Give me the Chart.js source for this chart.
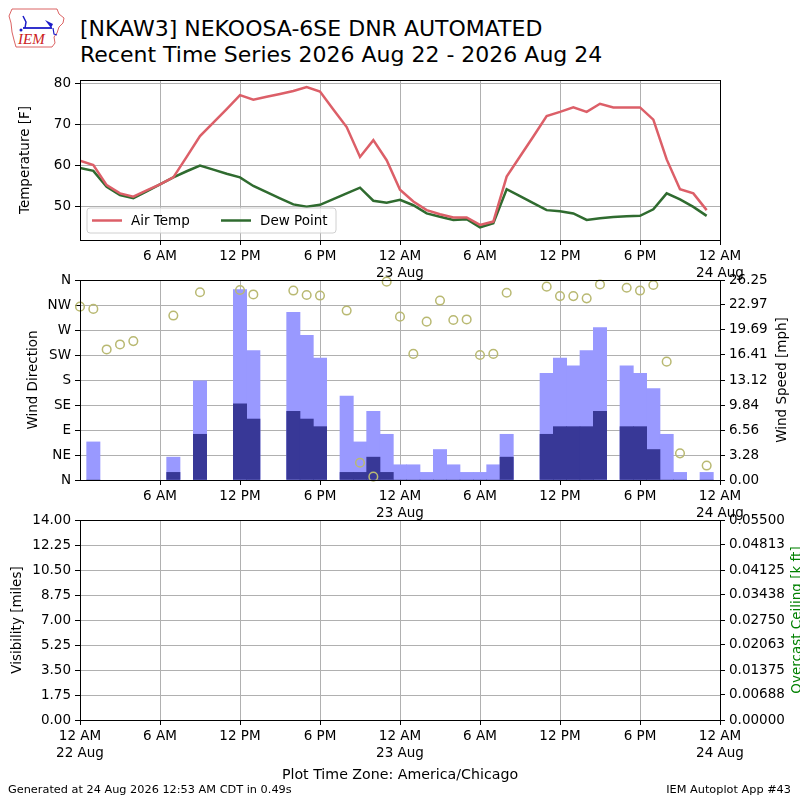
<!DOCTYPE html>
<html>
<head>
<meta charset="utf-8">
<title>NKAW3 Recent Time Series</title>
<script src="https://cdn.jsdelivr.net/npm/chart.js@4.4.1/dist/chart.umd.min.js"></script>
<style>
  html, body { margin: 0; padding: 0; background: #fff; overflow: hidden; }
  #page { position: relative; width: 800px; height: 800px; font-family: 'DejaVu Sans', sans-serif; }
  canvas { position: absolute; left: 0; top: 0; }
  .txt { position: absolute; white-space: nowrap; color: #000; }
</style>
</head>
<body>
<div id="page">
  <svg style="position:absolute;left:7px;top:6px" width="60" height="44" viewBox="0 0 60 44">
    <path d="M5 3 L50 3 L52 8 L57 12 L56 17 L52 21 L50 27 L47 31 L48 37 L45 41 L9 41 L7 34 L5 26 L4 17 L2 10 Z"
          fill="none" stroke="#d23c3c" stroke-width="0.8"/>
    <path d="M16 22 L45 22" stroke="#1c1cc8" stroke-width="1.8"/>
    <path d="M16 10 L19 16 L18 22" stroke="#1c1cc8" stroke-width="1.5" fill="none"/>
    <path d="M38 14 L46 18 L44 22 Z" fill="#1c1cc8"/>
    <path d="M46 22 L47 28 L50 29" stroke="#1c1cc8" stroke-width="1.2" fill="none"/>
    <circle cx="14" cy="24" r="1.5" fill="#1c1cc8"/>
    <text x="11" y="38" font-family="Liberation Serif" font-style="italic" font-size="15" fill="#cc2020">IEM</text>
  </svg>
  <div class="txt" style="left:80px; top:16px; font-size:22px;">[NKAW3] NEKOOSA-6SE DNR AUTOMATED</div>
  <div class="txt" style="left:80px; top:42px; font-size:22px;">Recent Time Series 2026 Aug 22 - 2026 Aug 24</div>
  <canvas id="tempChart" width="800" height="800"></canvas>
  <canvas id="windChart" width="800" height="800"></canvas>
  <canvas id="visChart" width="800" height="800"></canvas>
  <div class="txt" style="left:0; width:800px; text-align:center; top:766px; font-size:14.2px;">Plot Time Zone: America/Chicago</div>
  <div class="txt" style="left:8px; top:783px; font-size:11.3px;">Generated at 24 Aug 2026 12:53 AM CDT in 0.49s</div>
  <div class="txt" style="right:9px; top:783px; font-size:11.3px;">IEM Autoplot App #43</div>
</div>
<script>
// hours since 12 AM 22 Aug (local time)
const tempHours = [0, 1, 2, 3, 4, 5, 6, 7, 8, 9, 10, 11, 12, 13, 14, 15, 16, 17, 18, 19, 20, 21, 22, 23,
                   24, 25, 26, 27, 28, 29, 30, 31, 32, 33, 34, 35, 36, 37, 38, 39, 40, 41, 42, 43, 44, 45, 46, 47];
const airTemp = [61.1, 60.0, 55.1, 53.1, 52.3, 53.8, 55.3, 57.0, 62.0, 67.1, 70.4, 73.7, 77.1, 76.0, 76.7, 77.4,
                 78.1, 79.1, 78.0, 73.6, 69.3, 62.0, 66.1, 61.2, 54.0, 51.1, 49.0, 48.0, 47.2, 47.2, 45.4, 46.2,
                 57.2, 62.1, 67.0, 72.0, 73.0, 74.1, 73.0, 75.0, 74.1, 74.1, 74.1, 71.1, 61.4, 54.1, 53.1, 49.0];
const dewPoint = [59.3, 58.6, 54.7, 52.7, 51.9, 53.6, 55.3, 57.0, 58.5, 59.9, 58.9, 57.9, 57.0, 54.9, 53.4, 51.9,
                  50.4, 49.8, 50.3, 51.7, 53.1, 54.5, 51.3, 50.8, 51.5, 50.2, 48.2, 47.4, 46.6, 46.8, 44.8, 45.8,
                  54.1, 52.4, 50.7, 49.0, 48.7, 48.2, 46.6, 47.0, 47.3, 47.5, 47.6, 49.2, 53.1, 51.6, 49.8, 47.6];

// wind bars: light = gust, dark = sustained speed [mph]
const windHours = [1, 7, 9, 12, 13, 16, 17, 18, 20, 21, 22, 23, 24, 25, 26, 27, 28, 29, 30, 31, 32,
                   35, 36, 37, 38, 39, 41, 42, 43, 44, 45, 47];
const windGust = [5, 3, 13, 25, 17, 22, 19, 16, 11, 5, 9, 6, 2, 2, 1, 4, 2, 1, 1, 2, 6,
                  14, 16, 15, 17, 20, 15, 14, 12, 6, 1, 1];
const windSpeed = [0, 1, 6, 10, 8, 9, 8, 7, 1, 1, 3, 1, 0, 0, 0, 0, 0, 0, 0, 0, 3,
                   6, 7, 7, 7, 9, 7, 7, 4, 0, 0, 0];

// wind direction [deg]
const drctHours = [0, 1, 2, 3, 4, 7, 9, 12, 13, 16, 17, 18, 20, 21, 22, 23, 24, 25, 26, 27, 28, 29, 30, 31, 32,
                   35, 36, 37, 38, 39, 41, 42, 43, 44, 45, 47];
const windDir = [312, 308, 235, 244, 250, 296, 338, 342, 334, 341, 333, 332, 305, 31, 6, 357, 294, 227, 285, 323,
                 288, 289, 225, 227, 337, 348, 331, 331, 327, 352, 346, 341, 351, 213, 48, 26];

// bottom panel has no observations
const visibility = [];
const ceiling = [];

// tick labels
const hourNames = { 0: '12 AM', 6: '6 AM', 12: '12 PM', 18: '6 PM' };
const dayNames = ['22 Aug', '23 Aug', '24 Aug'];
const timeTicksTop = [6, 12, 18, 24, 30, 36, 42, 48];
const timeTicksAll = [0, 6, 12, 18, 24, 30, 36, 42, 48];
const tempTicks = [50, 60, 70, 80];
const dirTickLabels = ['N', 'NE', 'E', 'SE', 'S', 'SW', 'W', 'NW', 'N'];
const speedTickLabels = ['0.00', '3.28', '6.56', '9.84', '13.12', '16.41', '19.69', '22.97', '26.25'];
const visTickLabels = ['0.00', '1.75', '3.50', '5.25', '7.00', '8.75', '10.50', '12.25', '14.00'];
const ceilTickLabels = ['0.00000', '0.00688', '0.01375', '0.02063', '0.02750', '0.03438', '0.04125', '0.04813', '0.05500'];

Chart.defaults.font.family = "'DejaVu Sans', sans-serif";
Chart.defaults.font.size = 13.5;
Chart.defaults.color = '#000';
Chart.defaults.animation = false;

const GRID = '#b0b0b0';

function setTicks(values) {
    return scale => { scale.ticks = values.map(v => ({ value: v })); };
}
function fixWidth(w) {
    return scale => { scale.width = w; };
}
function fixHeight(h) {
    return scale => { scale.height = h; };
}
function timeLabel(value) {
    const hod = value % 24;
    if (hod === 0) return [hourNames[0], dayNames[value / 24]];
    return hourNames[hod];
}

function timeAxis(tickValues, height) {
    return {
        type: 'linear',
        min: 0,
        max: 48,
        offset: false,
        afterBuildTicks: setTicks(tickValues),
        afterFit: fixHeight(height),
        grid: { color: GRID, tickColor: '#000', tickLength: 5, offset: false },
        border: { display: false },
        ticks: { maxRotation: 0, autoSkip: false, padding: 3, callback: v => timeLabel(v),
                 font: { lineHeight: 1.25 } }
    };
}

function leftAxis(min, max, tickValues, width, title, labelFn) {
    return {
        position: 'left',
        min: min,
        max: max,
        afterBuildTicks: setTicks(tickValues),
        afterFit: fixWidth(width),
        grid: { color: GRID, tickColor: '#000', tickLength: 5 },
        border: { display: false },
        ticks: { padding: 4, callback: labelFn },
        title: { display: true, text: title, padding: 0 }
    };
}

function rightAxis(min, max, labels) {
    return {
        position: 'right',
        min: min,
        max: max,
        afterBuildTicks: setTicks(labels.map(Number)),
        afterFit: fixWidth(80),
        grid: { drawOnChartArea: false, tickColor: '#000', tickLength: 5 },
        border: { display: false },
        ticks: { padding: 4, callback: (v, i) => labels[i] }
    };
}

// plot frame plus an optional right side axis title (reads bottom to top)
const framePlugin = {
    id: 'frame',
    afterDraw(chart, args, opts) {
        const { ctx, chartArea: a } = chart;
        ctx.save();
        ctx.strokeStyle = '#000';
        ctx.lineWidth = 1;
        ctx.strokeRect(a.left + 0.5, a.top + 0.5, a.right - a.left, a.bottom - a.top);
        if (opts.rightTitle) {
            ctx.translate(opts.rightX, (a.top + a.bottom) / 2);
            ctx.rotate(-Math.PI / 2);
            ctx.fillStyle = opts.rightColor || '#000';
            ctx.font = "13.5px 'DejaVu Sans'";
            ctx.textAlign = 'center';
            ctx.textBaseline = 'middle';
            ctx.fillText(opts.rightTitle, 0, 0);
        }
        ctx.restore();
    }
};

// matplotlib style legend in the lower left of the temperature panel
const legendPlugin = {
    id: 'tempLegend',
    afterDraw(chart) {
        const { ctx, chartArea: a } = chart;
        const x = a.left + 7, y = a.bottom - 32, w = 249, h = 25, r = 3;
        ctx.save();
        ctx.beginPath();
        ctx.roundRect(x, y, w, h, r);
        ctx.fillStyle = 'rgba(255,255,255,0.8)';
        ctx.fill();
        ctx.strokeStyle = '#d0d0d0';
        ctx.lineWidth = 1;
        ctx.stroke();
        const my = y + h / 2;
        chart.data.datasets.forEach((ds, i) => {
            const lx = x + 5 + i * 129;
            ctx.beginPath();
            ctx.moveTo(lx, my);
            ctx.lineTo(lx + 30, my);
            ctx.strokeStyle = ds.borderColor;
            ctx.lineWidth = 2.5;
            ctx.stroke();
            ctx.fillStyle = '#000';
            ctx.font = "13.5px 'DejaVu Sans'";
            ctx.textBaseline = 'middle';
            ctx.fillText(ds.label, lx + 39, my + 1);
        });
        ctx.restore();
    }
};

// Panel 1 - Temperature
const tempChart = new Chart(document.getElementById('tempChart'), {
    type: 'line',
    data: {
        datasets: [{
            label: 'Air Temp',
            data: tempHours.map((h, i) => ({ x: h, y: airTemp[i] })),
            borderColor: '#dc5f68',
            borderWidth: 2.5,
            pointRadius: 0,
            tension: 0
        }, {
            label: 'Dew Point',
            data: tempHours.map((h, i) => ({ x: h, y: dewPoint[i] })),
            borderColor: '#2f6b2f',
            borderWidth: 2.5,
            pointRadius: 0,
            tension: 0
        }]
    },
    options: {
        responsive: false,
        layout: { padding: { top: 80, left: 17, right: 80, bottom: 0 } },
        plugins: { legend: { display: false }, tooltip: { enabled: false }, frame: {} },
        scales: {
            x: timeAxis(timeTicksTop, 560),
            y: leftAxis(41.7, 80.8, tempTicks, 63, 'Temperature [F]', v => String(v))
        }
    },
    plugins: [framePlugin, legendPlugin]
});

// Panel 2 - Wind direction and speed
const windChart = new Chart(document.getElementById('windChart'), {
    type: 'bar',
    data: {
        datasets: [{
            type: 'scatter',
            label: 'Wind Direction',
            data: drctHours.map((h, i) => ({ x: h, y: windDir[i] })),
            yAxisID: 'y',
            pointStyle: 'circle',
            pointRadius: 4.3,
            borderWidth: 1.5,
            borderColor: '#b9b972',
            backgroundColor: 'rgba(0,0,0,0)',
            clip: false,
            order: 0
        }, {
            label: 'Wind Speed',
            data: windHours.map((h, i) => ({ x: h, y: windSpeed[i] })),
            yAxisID: 'y1',
            backgroundColor: '#383897',
            borderWidth: 0,
            grouped: false,
            barPercentage: 1,
            categoryPercentage: 1,
            order: 1
        }, {
            label: 'Wind Gust',
            data: windHours.map((h, i) => ({ x: h, y: windGust[i] })),
            yAxisID: 'y1',
            backgroundColor: '#9999ff',
            borderWidth: 0,
            grouped: false,
            barPercentage: 1,
            categoryPercentage: 1,
            order: 2
        }]
    },
    options: {
        responsive: false,
        layout: { padding: { top: 280, left: 25, right: 0, bottom: 0 } },
        plugins: {
            legend: { display: false },
            tooltip: { enabled: false },
            frame: { rightTitle: 'Wind Speed [mph]', rightX: 782 }
        },
        scales: {
            x: timeAxis(timeTicksTop, 320),
            y: leftAxis(0, 360, dirTickLabels.map((d, i) => i * 45), 55, 'Wind Direction',
                        (v, i) => dirTickLabels[i]),
            y1: rightAxis(0, 26.25, speedTickLabels)
        }
    },
    plugins: [framePlugin]
});

// Panel 3 - Visibility and ceiling (no data in this period)
const visChart = new Chart(document.getElementById('visChart'), {
    type: 'line',
    data: {
        datasets: [{
            label: 'Visibility',
            data: visibility,
            yAxisID: 'y',
            borderColor: '#000'
        }, {
            label: 'Overcast Ceiling',
            data: ceiling,
            yAxisID: 'y1',
            borderColor: 'green'
        }]
    },
    options: {
        responsive: false,
        layout: { padding: { top: 520, left: 9, right: 0, bottom: 0 } },
        plugins: {
            legend: { display: false },
            tooltip: { enabled: false },
            frame: { rightTitle: 'Overcast Ceiling [k ft]', rightX: 797, rightColor: 'green' }
        },
        scales: {
            x: timeAxis(timeTicksAll, 80),
            y: leftAxis(0, 14, visTickLabels.map(Number), 71, 'Visibility [miles]',
                        (v, i) => visTickLabels[i]),
            y1: rightAxis(0, 0.055, ceilTickLabels)
        }
    },
    plugins: [framePlugin]
});
</script>
</body>
</html>
